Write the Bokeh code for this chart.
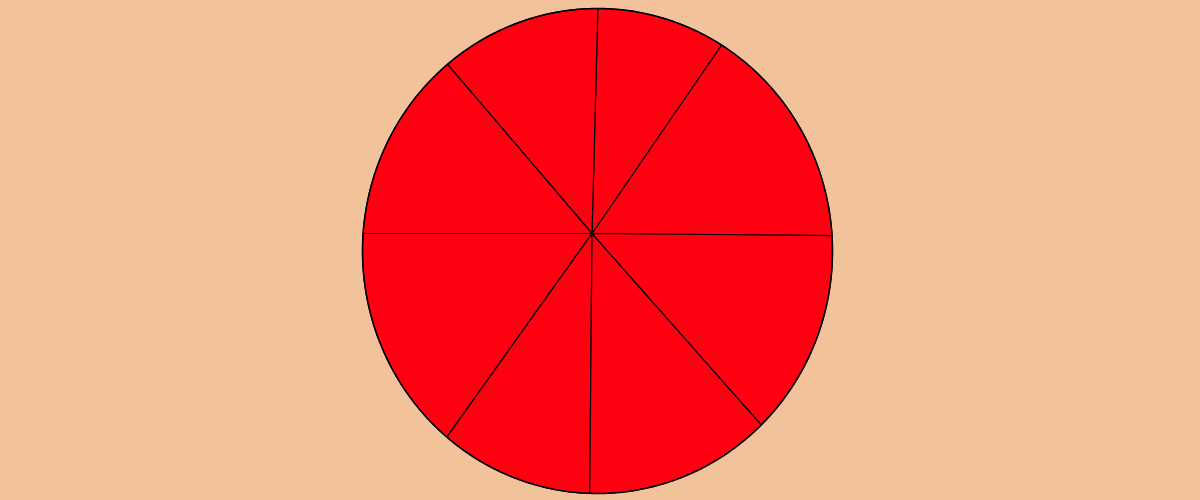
import numpy as np
from bokeh.plotting import figure
from bokeh.models import Range1d, ColumnDataSource
from bokeh.embed import file_html
from bokeh.resources import INLINE

# Slice values (degrees of the full turn), counter-clockwise from the right
labels = ["A", "B", "C", "D", "E", "F", "G", "H"]
values = [56, 33, 42, 49.5, 54.5, 35, 42, 48]
start_deg = -0.5

BG = "#F2C29B"
RED = "#FF0010"

# geometry (page pixels)
cx, cy, ra, rb = 597.0, 250.5, 235.0, 242.5
ax, ay = 591.5, 233.0

def edge_t(theta):
    c, s = np.cos(theta), np.sin(theta)
    u, v = ax - cx, ay - cy
    A = c * c / ra**2 + s * s / rb**2
    B = 2 * (u * c / ra**2 - v * s / rb**2)
    C = u * u / ra**2 + v * v / rb**2 - 1
    return (-B + np.sqrt(B * B - 4 * A * C)) / (2 * A)

total = float(sum(values))
xs, ys = [], []
ang = np.radians(start_deg)
for val in values:
    span = 2 * np.pi * val / total
    th = np.linspace(ang, ang + span, 80)
    t = np.array([edge_t(q) for q in th])
    px = ax + t * np.cos(th)
    py = ay - t * np.sin(th)
    xs.append([ax] + list(px))
    ys.append([ay] + list(py))
    ang += span

src = ColumnDataSource(dict(xs=xs, ys=ys, label=labels, value=values))

p = figure(width=1200, height=500, output_backend="svg", toolbar_location=None,
           x_range=Range1d(0, 1200), y_range=Range1d(500, 0),
           min_border=0)
p.axis.visible = False
p.grid.visible = False
p.outline_line_color = None
p.background_fill_color = BG
p.border_fill_color = BG

p.patches("xs", "ys", source=src, fill_color=RED, line_color="black", line_width=1.2)

# outer outline
th = np.linspace(0, 2 * np.pi, 400)
p.line(cx + ra * np.cos(th), cy + rb * np.sin(th), line_color="black", line_width=1.5)

html = file_html(p, INLINE)
html = html.replace("</head>",
                    "<style>html,body{background:%s;margin:0;padding:0;overflow:hidden;}</style></head>" % BG, 1)
open("out.html", "w").write(html)
